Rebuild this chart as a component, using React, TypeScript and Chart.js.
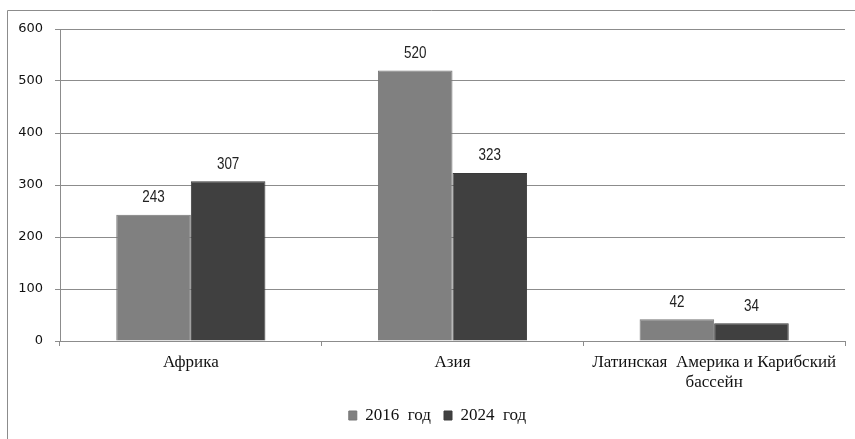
import React, { useEffect, useRef } from "react";
import { Chart, registerables } from "chart.js";

Chart.register(...registerables);

const categories: (string | string[])[] = [
  "Африка",
  "Азия",
  ["Латинская  Америка и Карибский", "бассейн"],
];
const seriesNames = ["2016  год", "2024  год"];
const values2016 = [243, 520, 42];
const values2024 = [307, 323, 34];
const yTicks = [0, 100, 200, 300, 400, 500, 600];

const SERIF = "'Liberation Serif', 'Times New Roman', serif";
const SANS = "'DejaVu Sans', 'Liberation Sans', sans-serif";
const LABEL_SANS = "'Liberation Sans', Arial, sans-serif";

// Outer frame around the chart (open on the right and bottom edges of the canvas)
const framePlugin = {
  id: "frame",
  beforeDraw(chart: any) {
    const { ctx } = chart;
    ctx.save();
    ctx.strokeStyle = "#8c8c8c";
    ctx.lineWidth = 1;
    ctx.beginPath();
    ctx.moveTo(7.5, 450);
    ctx.lineTo(7.5, 10.5);
    ctx.lineTo(900, 10.5);
    ctx.stroke();
    ctx.restore();
  },
};

// Centre the legend under the plot area rather than the whole canvas
const legendShiftPlugin = {
  id: "legendShift",
  afterLayout(chart: any) {
    const lg = chart.legend;
    if (!lg) return;
    lg.left += 15;
    lg.right += 15;
  },
};

// Value labels above each bar, set in a condensed sans face
const valueLabelPlugin = {
  id: "valueLabels",
  afterDatasetsDraw(chart: any) {
    const { ctx } = chart;
    chart.data.datasets.forEach((ds: any, i: number) => {
      const meta = chart.getDatasetMeta(i);
      meta.data.forEach((bar: any, j: number) => {
        ctx.save();
        ctx.fillStyle = "#222";
        ctx.font = `16px ${LABEL_SANS}`;
        ctx.textAlign = "center";
        ctx.textBaseline = "bottom";
        ctx.translate(bar.x, bar.y - 9);
        ctx.scale(0.84, 1);
        ctx.fillText(String(ds.data[j]), 0, 0);
        ctx.restore();
      });
    });
  },
};

export default function App() {
  const canvasRef = useRef<HTMLCanvasElement | null>(null);

  useEffect(() => {
    if (!canvasRef.current) return;
    const chart = new Chart(canvasRef.current, {
      type: "bar",
      data: {
        labels: categories,
        datasets: [
          {
            label: seriesNames[0],
            data: values2016,
            backgroundColor: "#808080",
            borderColor: "#777777",
            borderWidth: 1,
          },
          {
            label: seriesNames[1],
            data: values2024,
            backgroundColor: "#404040",
            borderColor: "#3a3a3a",
            borderWidth: 1,
          },
        ],
      },
      options: {
        animation: false,
        responsive: false,
        maintainAspectRatio: false,
        datasets: {
          bar: { categoryPercentage: 0.57, barPercentage: 1.0 },
        },
        layout: { padding: { left: 0, right: 10, top: 29, bottom: 5 } },
        plugins: {
          legend: {
            position: "bottom",
            labels: {
              boxWidth: 8,
              boxHeight: 9,
              color: "#111",
              font: { family: SERIF, size: 17, lineHeight: 1.0 },
              padding: 13,
            },
          },
          tooltip: { enabled: false },
        },
        scales: {
          x: {
            grid: {
              offset: true,
              drawOnChartArea: false,
              drawTicks: true,
              tickLength: 5,
              color: "#8c8c8c",
            },
            border: { color: "#8c8c8c" },
            ticks: {
              color: "#111",
              font: { family: SERIF, size: 17, lineHeight: 1.15 },
              maxRotation: 0,
              autoSkip: false,
              padding: 7,
            },
            afterFit(scale: any) {
              scale.height = 53;
            },
          },
          y: {
            min: 0,
            max: 600,
            afterBuildTicks(scale: any) {
              scale.ticks = yTicks.map((v) => ({ value: v }));
            },
            grid: {
              color: "#8c8c8c",
              drawTicks: true,
              tickLength: 5,
            },
            border: { color: "#8c8c8c" },
            ticks: {
              color: "#111",
              font: { family: SANS, size: 13 },
              padding: 12,
            },
            afterFit(scale: any) {
              scale.width = 60;
            },
          },
        },
      },
      plugins: [framePlugin, legendShiftPlugin, valueLabelPlugin],
    });
    return () => chart.destroy();
  }, []);

  return (
    <div style={{ position: "absolute", left: 0, top: 0, width: 855, height: 439, background: "#fff" }}>
      <canvas ref={canvasRef} width={855} height={439} />
    </div>
  );
}
